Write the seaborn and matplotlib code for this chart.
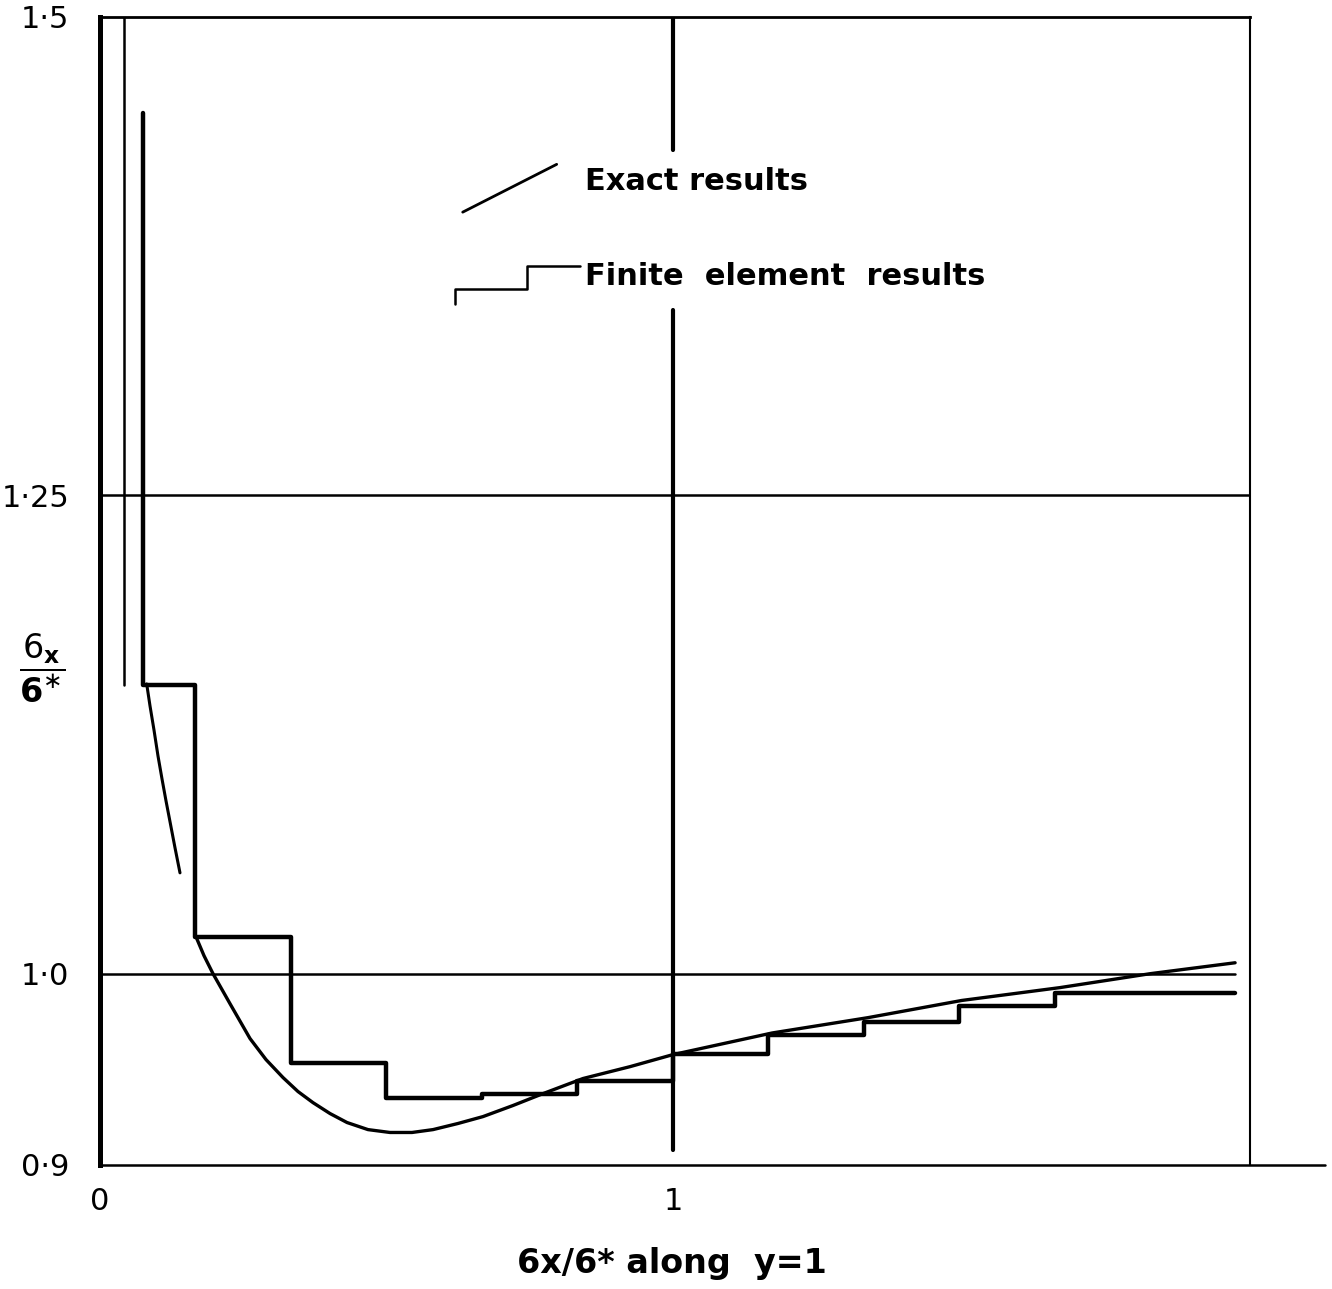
import numpy as np
import pandas as pd
import matplotlib
matplotlib.use("Agg")
import matplotlib.pyplot as plt
from matplotlib.lines import Line2D
import seaborn as sns

# finite element results: element edges and stress ratio per element
fe_x = [0.075, 0.075, 1/6, 2/6, 3/6, 4/6, 5/6, 1.0, 7/6, 8/6, 9/6, 10/6, 1.98]
fe_y = [1.450, 1.151, 1.019, 0.9535, 0.935, 0.937, 0.944, 0.958, 0.968, 0.9745, 0.983, 0.990, 0.990]

# exact results, near the corner and along the rest of y=1
exact1_x = [0.0815, 0.0873, 0.0942, 0.1012, 0.1082, 0.1152, 0.1222, 0.1309, 0.1396]
exact1_y = [1.1514, 1.1399, 1.1274, 1.1138, 1.1018, 1.0903, 1.0794, 1.0658, 1.0527]
exact2_x = [0.1675, 0.1815, 0.1972, 0.2269, 0.2618, 0.2897, 0.3194, 0.3455, 0.3717,
            0.4014, 0.4311, 0.4677, 0.5061, 0.5445, 0.5812, 0.6248, 0.6684, 0.7208,
            0.7731, 0.8429, 0.925, 1.0, 1.173, 1.340, 1.504, 1.675, 1.833, 1.981]
exact2_y = [1.0193, 1.0094, 1.0, 0.9843, 0.9661, 0.9551, 0.9457, 0.9384, 0.9326,
            0.9269, 0.9222, 0.9185, 0.9170, 0.9170, 0.9185, 0.9217, 0.9253, 0.9311,
            0.9373, 0.9452, 0.9514, 0.9577, 0.969, 0.977, 0.986, 0.9927, 1.0, 1.0057]
sing_x = [0.042, 0.042]
sing_y = [1.5, 1.151]

yticks = [0.9, 1.0, 1.25, 1.5]
ytick_labels = ["0·9", "1·0", "1·25", "1·5"]
xticks = [0, 1]
xtick_labels = ["0", "1"]

sns.set_style("white")
plt.rcParams["font.family"] = ["DejaVu Sans"]
plt.rcParams["text.color"] = "black"
plt.rcParams["xtick.color"] = "black"
plt.rcParams["ytick.color"] = "black"

W, H = 1332, 1289
fig = plt.figure(figsize=(W / 100, H / 100), dpi=100)
ax = fig.add_axes([100 / W, 1 - 1165 / H, 1150 / W, 1148 / H])
ax.set_xlim(0, 2.007)
ax.set_ylim(0.9, 1.5)

# reference lines
ax.axhline(1.25, color="black", lw=1.8, zorder=1)
ax.axhline(1.0, xmax=1.98 / 2.007, color="black", lw=1.8, zorder=1)
ax.axvline(1.0, ymin=(0.908 - 0.9) / 0.6, ymax=(1.347 - 0.9) / 0.6, color="black", lw=3, zorder=1)
ax.axvline(1.0, ymin=(1.4305 - 0.9) / 0.6, ymax=1, color="black", lw=3, zorder=1)

fe = pd.DataFrame({"x": fe_x, "y": fe_y})
ex1 = pd.DataFrame({"x": exact1_x, "y": exact1_y})
ex2 = pd.DataFrame({"x": exact2_x, "y": exact2_y})
sg = pd.DataFrame({"x": sing_x, "y": sing_y})

sns.lineplot(data=fe, x="x", y="y", sort=False, estimator=None, ax=ax,
             color="black", lw=3.2, drawstyle="steps-post")
sns.lineplot(data=ex1, x="x", y="y", sort=False, estimator=None, ax=ax, color="black", lw=2.2)
sns.lineplot(data=ex2, x="x", y="y", sort=False, estimator=None, ax=ax, color="black", lw=2.4)
sns.lineplot(data=sg, x="x", y="y", sort=False, estimator=None, ax=ax, color="black", lw=1.8)

# hand drawn key
ax.plot([0.633, 0.797], [1.398, 1.423], color="black", lw=2)
ax.plot([0.620, 0.620, 0.745, 0.745, 0.838], [1.350, 1.358, 1.358, 1.370, 1.370],
        color="black", lw=1.8)
ax.text(0.846, 1.414, "Exact results", fontsize=22, fontweight="bold", va="center", ha="left")
ax.text(0.846, 1.3645, "Finite  element  results", fontsize=22, fontweight="bold",
        va="center", ha="left")

# frame
for s in ax.spines.values():
    s.set_color("black")
ax.spines["left"].set_linewidth(3.6)
ax.spines["top"].set_linewidth(2)
ax.spines["right"].set_linewidth(1.5)
ax.spines["bottom"].set_visible(False)
ax.add_line(Line2D([0, 1.065], [0, 0], transform=ax.transAxes, color="black",
                   lw=1.8, clip_on=False))

ax.set_yticks(yticks)
ax.set_yticklabels(ytick_labels, fontsize=22)
ax.set_xticks(xticks)
ax.set_xticklabels(xtick_labels, fontsize=22)
ax.tick_params(axis="both", length=0)
ax.tick_params(axis="y", pad=22)
ax.tick_params(axis="x", pad=16)
ax.set_xlabel("")
ax.set_ylabel("")

fig.text(672 / W, 1 - 1263 / H, "6x/6* along  y=1", fontsize=24, fontweight="bold",
         ha="center", va="center")
fig.text(42 / W, 1 - 668 / H, r"$\dfrac{\mathit{6}_{\mathbf{x}}}{\mathbf{6}^{\ast}}$",
         fontsize=24, ha="center", va="center")

fig.savefig("out.png", dpi=100)
